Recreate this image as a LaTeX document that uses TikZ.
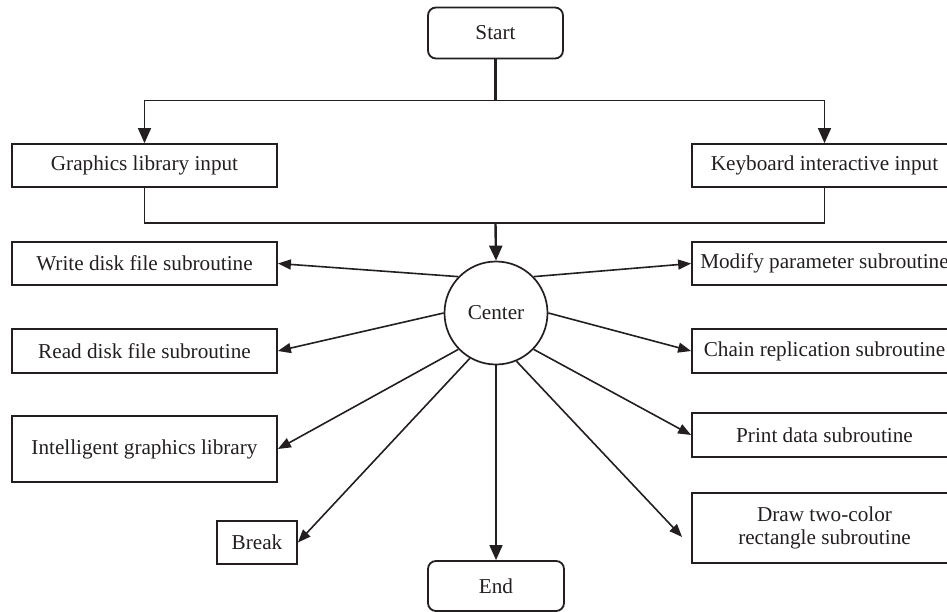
\documentclass[tikz,border=0pt]{standalone}
\usepackage{fontspec}
\setmainfont{Liberation Serif}
\usetikzlibrary{arrows.meta,calc}
\definecolor{ink}{HTML}{231F20}
\begin{document}
\begin{tikzpicture}[x=1pt,y=-1pt,
  every node/.style={font=\fontsize{21.2}{25}\selectfont, text=ink},
  box/.style={draw=ink, line width=1.8pt, rectangle, inner sep=0pt, align=center},
  term/.style={box, rounded corners=8pt},
  hub/.style={draw=ink, line width=1.7pt, circle, inner sep=0pt, minimum size=103pt},
  link/.style={draw=ink, line width=1.6pt},
  flow/.style={link, -{Triangle[length=15pt,width=13pt]}},
  spoke/.style={link, -{Triangle[length=13pt,width=10pt]}}
]
\useasboundingbox (0,0) rectangle (947,612);

% terminals
\node[term, minimum width=135pt, minimum height=51pt] (start) at (495.5,33) {Start};
\node[term, minimum width=136pt, minimum height=50pt] (end) at (496,586) {End};

% input stage
\node[box, minimum width=265pt, minimum height=43pt] (gli) at (144.5,165.5) {Graphics library input};
\node[box, minimum width=265pt, minimum height=43pt] (kii) at (824.5,165.5) {Keyboard interactive input};

% hub
\node[hub] (center) at (496,313) {Center};

% left subroutines
\node[box, minimum width=265pt, minimum height=43pt] (wdf) at (144.5,263.5) {Write disk file subroutine};
\node[box, minimum width=265pt, minimum height=44pt] (rdf) at (144.5,351) {Read disk file subroutine};
\node[box, minimum width=265pt, minimum height=66pt] (igl) at (144.5,449) {Intelligent graphics library};
\node[box, minimum width=80pt, minimum height=43pt] (brk) at (257,542.5) {Break};

% right subroutines
\node[box, minimum width=265pt, minimum height=43pt] (mps) at (824.5,263.5) {Modify parameter subroutine};
\node[box, minimum width=265pt, minimum height=44pt] (crs) at (824.5,351) {Chain replication subroutine};
\node[box, minimum width=265pt, minimum height=44pt] (pds) at (824.5,435) {Print data subroutine};
\node[box, minimum width=265pt, minimum height=70pt] (dtc) at (824.5,528) {Draw two-color\\[-2pt]rectangle subroutine};

% split from Start
\coordinate (split) at ($(start.south)+(0,41)$);
\draw[link, line width=2.6pt] (start.south) -- (split);
\draw[flow] (split) -| (gli.north);
\draw[flow] (split) -| (kii.north);

% merge into Center
\coordinate (merge) at (495.5,223);
\draw[link] (gli.south) |- (merge);
\draw[link] (kii.south) |- (merge);
\draw[flow, line width=2.4pt] (merge) -- (center.north);

% spokes from Center
\draw[spoke] (center.136) -- (wdf.east);
\draw[spoke] (center.180) -- (rdf.east);
\draw[spoke] (center.224) -- (igl.east);
\draw[spoke] (center.240) -- (brk.east);
\draw[flow]  (center.south) -- (end.north);
\draw[spoke] (center.44) -- (mps.west);
\draw[spoke] (center.0) -- (crs.west);
\draw[spoke] (center.316) -- (pds.west);
\draw[spoke] (center.293) -- ($(dtc.west)+(-9,9)$);
\end{tikzpicture}
\end{document}
